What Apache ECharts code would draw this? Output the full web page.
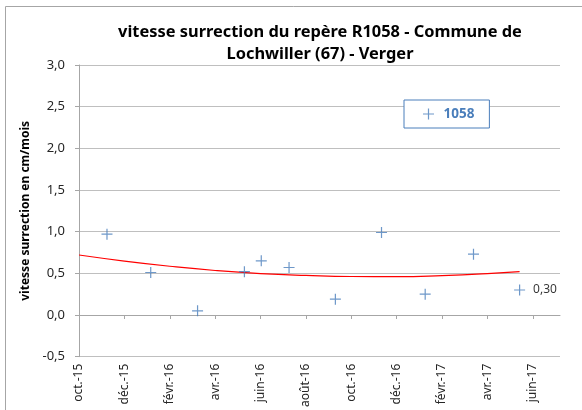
<!DOCTYPE html>
<html>
<head>
<meta charset="utf-8">
<title>vitesse surrection R1058</title>
<script src="https://cdn.jsdelivr.net/npm/echarts@6/dist/echarts.min.js"></script>
<style>
  html, body { margin: 0; padding: 0; background: #fff; }
  #chart { width: 582px; height: 410px; }
</style>
</head>
<body>
<div id="chart"></div>
<script>
    "use strict";

    // --- Data ---
    const seriesName = "1058";
    const pointDates = ["2015-11-08", "2016-01-06", "2016-03-08", "2016-05-10", "2016-06-02", "2016-07-09",
        "2016-09-10", "2016-11-11", "2017-01-09", "2017-03-13", "2017-05-14"];
    const pointValues = [0.97, 0.51, 0.05, 0.52, 0.65, 0.57, 0.19, 0.99, 0.25, 0.73, 0.30];

    // polynomial trend line (red), read at a few dates
    const trendDates = ["2015-10-01", "2015-12-01", "2016-02-01", "2016-04-01", "2016-06-01", "2016-08-01",
        "2016-10-01", "2016-12-01", "2017-02-01", "2017-04-01", "2017-05-14"];
    const trendValues = [0.72, 0.647, 0.585, 0.534, 0.497, 0.475, 0.462, 0.461, 0.473, 0.496, 0.52];

    // x tick labels, one every two months from oct.-15
    const tickLabels = ["oct.-15", "déc.-15", "févr.-16", "avr.-16", "juin-16", "août-16",
        "oct.-16", "déc.-16", "févr.-17", "avr.-17", "juin-17"];

    // --- helpers ---
    // position in months since 2015-10-01 (fractional)
    function monthPos(s) {
        const [y, m, d] = s.split("-").map(Number);
        const dim = new Date(y, m, 0).getDate();
        return (y - 2015) * 12 + (m - 1) - 9 + (d - 1) / dim;
    }

    const tickPos = tickLabels.map((_, i) => i * 2);
    const FONT = "'Noto Sans', 'DejaVu Sans', sans-serif";
    const PLUS = "path://M4.45,0H5.55V4.45H10V5.55H5.55V10H4.45V5.55H0V4.45H4.45Z";
    const BLUE = "#4a7ebb";

    const chart = echarts.init(document.getElementById("chart"), null, { renderer: "canvas" });
    chart.setOption({
        animation: false,
        backgroundColor: "#fff",
        textStyle: { fontFamily: FONT },
        title: {
            text: "vitesse surrection du repère R1058 - Commune de\nLochwiller (67) - Verger",
            left: 315, top: 16, textAlign: "center",
            textStyle: { fontFamily: FONT, fontSize: 16.4, fontWeight: "bold", color: "#000", lineHeight: 22 }
        },
        graphic: [
            { type: "line", shape: { x1: 5.5, y1: 6.5, x2: 582, y2: 6.5 }, style: { stroke: "#a6a6a6", lineWidth: 1 } },
            { type: "line", shape: { x1: 5.5, y1: 6.5, x2: 5.5, y2: 410 }, style: { stroke: "#a6a6a6", lineWidth: 1 } }
        ],
        legend: {
            left: 404, top: 100,
            data: [seriesName],
            backgroundColor: "#fff",
            borderColor: BLUE, borderWidth: 1,
            padding: [7, 15, 7, 19],
            itemWidth: 20, itemHeight: 11, itemGap: 8,
            symbolKeepAspect: true,
            textStyle: { fontFamily: FONT, fontSize: 13.5, fontWeight: "bold", color: BLUE }
        },
        grid: { left: 79, right: 22, top: 65, bottom: 53, containLabel: false },
        xAxis: {
            type: "value",
            min: 0, max: 21.2, interval: 2,
            axisLine: { lineStyle: { color: "#a6a6a6" } },
            axisTick: { show: true, length: 4, lineStyle: { color: "#a6a6a6" }, customValues: tickPos },
            axisLabel: {
                rotate: 90, fontSize: 12, color: "#262626", margin: 7, fontFamily: FONT,
                customValues: tickPos,
                formatter: v => tickLabels[Math.round(v / 2)] || ""
            },
            splitLine: { show: false }
        },
        yAxis: {
            type: "value",
            min: -0.5, max: 3, interval: 0.5,
            name: "vitesse surrection en cm/mois",
            nameLocation: "middle", nameGap: 43,
            nameTextStyle: { fontFamily: FONT, fontSize: 12, fontWeight: "bold", color: "#000" },
            axisLine: { show: true, lineStyle: { color: "#a6a6a6" } },
            axisTick: { show: true, length: 4, lineStyle: { color: "#a6a6a6" } },
            axisLabel: {
                fontSize: 13, color: "#262626", margin: 14, fontFamily: FONT,
                formatter: v => v.toFixed(1).replace(".", ",")
            },
            splitLine: { lineStyle: { color: "#bfbfbf" } }
        },
        series: [
            {
                name: "trend",
                type: "line",
                data: trendDates.map((d, i) => [monthPos(d), trendValues[i]]),
                smooth: true,
                showSymbol: false,
                lineStyle: { color: "#ff0000", width: 1.2 },
                itemStyle: { color: "#ff0000" },
                z: 2
            },
            {
                name: seriesName,
                type: "scatter",
                data: pointDates.map((d, i) => [monthPos(d), pointValues[i]]),
                symbol: PLUS,
                symbolSize: 11,
                itemStyle: { color: BLUE },
                label: {
                    show: true, position: "right", distance: 8,
                    fontFamily: FONT, fontSize: 12, color: "#000",
                    formatter: p => p.dataIndex === pointValues.length - 1 ? p.value[1].toFixed(2).replace(".", ",") : ""
                },
                z: 3
            }
        ]
    });
</script>
</body>
</html>
